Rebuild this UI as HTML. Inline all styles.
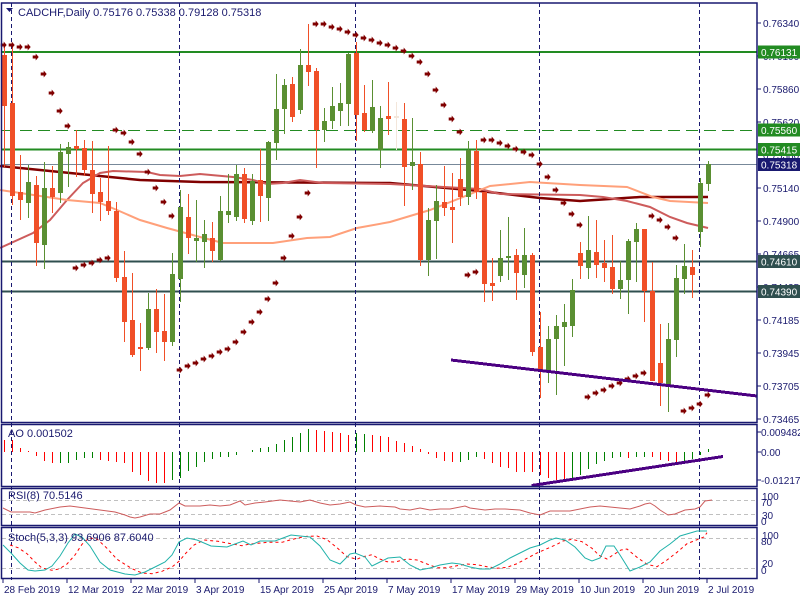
<!DOCTYPE html>
<html><head><meta charset="utf-8"><style>
html,body{margin:0;padding:0;background:#fff;}
svg{display:block;font-family:"Liberation Sans",sans-serif;}
</style></head><body>
<svg id="c" width="800" height="600" xmlns="http://www.w3.org/2000/svg"></svg>
<script>
var S=document.getElementById('c'),NS='http://www.w3.org/2000/svg',h='';
function X(i){return 3.7+8*i;}
var G='#5a8f32',R='#f04f27',F='#191970',T='#1a1a6e';
var C=[[R,55,106,45,167],[R,103,196,45,205],[R,192,200,155,220],[G,182,203,165,218],[R,185,243,176,266],[G,188,245,162,269],[R,188,197,166,213],[G,152,193,144,203],[G,147,154,142,187],[R,146,149,130,177],
[R,148,170,140,176],[R,170,194,141,213],[R,192,202,178,221],[R,201,211,146,215],[R,211,278,202,282],[R,277,322,251,342],[R,320,355,273,357],[R,347,349,323,371],[G,309,348,293,350],[R,309,332,289,353],
[R,331,342,294,361],[G,274,342,253,346],[G,207,279,190,302],[R,217,238,194,254],[G,238,241,200,262],[G,234,242,220,268],[R,238,251,222,262],[G,211,260,196,261],[G,211,215,174,223],[G,174,217,165,221],
[R,174,219,168,223],[G,181,221,174,225],[R,180,196,149,222],[G,142,198,141,221],[G,109,143,74,160],[G,85,109,79,134],[R,84,117,77,122],[G,65,110,49,114],[R,65,72,24,86],[R,71,130,68,168],
[G,121,130,108,142],[G,106,121,87,129],[G,103,111,83,126],[G,54,104,53,126],[R,53,115,42,141],[R,113,130,85,132],[G,107,131,80,133],[G,118,150,106,168],[R,116,119,82,135],['#f3e6da',116,118,102,150],
[R,119,167,103,206],[G,162,166,118,190],[R,164,260,152,266],[G,220,260,208,276],[G,201,221,185,259],[R,202,208,166,216],[R,207,210,173,243],[R,179,197,158,206],[G,150,197,141,205],[R,151,192,140,199],
[R,192,284,192,302],[R,283,286,258,301],[G,258,276,230,282],[G,256,257,217,280],[R,255,273,249,300],[G,255,275,228,288],[R,255,352,253,356],[R,347,370,312,398],[G,339,370,326,383],[G,326,339,315,395],
[G,322,327,304,366],[G,290,326,279,337],[R,253,266,242,279],[G,250,268,216,279],[R,252,265,220,278],[R,263,268,240,282],[R,267,289,235,294],[G,280,289,261,299],[G,241,280,239,314],[G,229,242,223,282],
[R,229,291,229,322],[R,291,381,262,381],[R,363,383,324,406],[G,339,385,323,412],[G,278,340,265,357],[G,266,279,244,294],[R,267,275,250,298],[G,183,232,178,247],[G,164,184,161,191]];
var SAR=[45,45,47,47,57,74,93,111,126,268,265,263,260,258,130,133,142,154,172,188,202,216,370,366,363,359,356,352,349,342,332,322,312,299,283,258,236,217,193,24,24,27,29,32,35,38,40,43,45,48,51,56,62,74,90,105,119,132,275,272,140,140,143,146,149,152,155,164,177,190,203,214,225,397,393,390,386,383,379,376,373,216,220,227,238,411,408,404,395];
var AO=[[R,440],[R,440],[R,448],[R,451],[R,456],[R,461],[R,463],[G,463],[G,463],[G,460],[G,458],[G,458],[R,460],[R,461],[R,462],[R,463],[R,472],[R,475],[R,481],[R,483],[R,483],[G,480],[G,478],[G,471],[G,467],[G,462],[G,459],[G,457],[G,457],[G,455],[G,452],[G,450],[G,448],[G,447],[G,444],[G,440],[G,437],[G,433],[G,429],[R,430],[R,431],[R,432],[R,433],[R,435],[G,433],[G,434],[R,435],[R,436],[R,437],[R,441],[R,443],[R,446],[R,449],[R,454],[R,458],[R,461],[R,462],[G,462],[G,460],[G,457],[R,459],[R,463],[R,467],[R,468],[R,472],[R,472],[R,472],[R,475],[R,478],[R,480],[R,480],[G,478],[G,475],[G,469],[G,464],[G,461],[G,458],[G,457],[R,458],[G,457],[G,457],[R,457],[R,460],[R,461],[R,462],[G,461],[G,459],[G,455],[G,449]];
function L(x1,y1,x2,y2,c,w,d){h+='<line x1="'+x1+'" y1="'+y1+'" x2="'+x2+'" y2="'+y2+'" stroke="'+c+'" stroke-width="'+(w||1)+'"'+(d?' stroke-dasharray="'+d+'"':'')+' shape-rendering="crispEdges"/>';}
function P(pts,c,w,d){h+='<polyline fill="none" points="'+pts.map(function(p){return p.join(',')}).join(' ')+'" stroke="'+c+'" stroke-width="'+(w||1)+'"'+(d?' stroke-dasharray="'+d+'"':'')+'/>';}
function TX(x,y,t,c,s,a){h+='<text x="'+x+'" y="'+y+'" fill="'+c+'" font-size="'+(s||11)+'"'+(a?' text-anchor="'+a+'"':'')+'>'+t+'</text>';}
L(2,52,757,52,'#228b22',2);L(2,130.5,757,130.5,'#228b22',1,'12,6');L(2,149.5,757,149.5,'#228b22',2);
L(2,164.5,757,164.5,'#778899',1);L(2,261.5,757,261.5,'#2f4f4f',2);L(2,291.5,757,291.5,'#2f4f4f',2);
P([[0,166],[100,176],[140,180],[200,182],[390,183],[480,191],[540,198],[580,201],[610,199],[640,197],[708,197]],'#800000',2.5);
P([[0,248],[33,233],[50,220],[67,200],[83,183],[100,173],[113,171],[147,172],[160,175],[180,176],[200,174],[233,177],[253,180],[267,184],[283,183],[300,180],[323,183],[390,184],[480,189],[500,194],[580,195],[603,197],[627,201],[650,207],[670,217],[687,223],[708,228]],'#cd5c5c',2);
P([[0,190],[67,200],[100,203],[117,210],[140,220],[167,228],[200,237],[223,243],[273,243],[307,238],[330,237],[357,228],[390,222],[430,210],[463,197],[490,186],[530,182],[580,185],[627,187],[653,197],[670,201],[708,203]],'#ffa07a',2);
[11.7,179.3,355.3,539.3,699.3].forEach(function(x){L(x,3,x,580,F,1,'4,3');});
C.forEach(function(c,i){var x=Math.round(X(i))+0.5;L(x,c[3],x,c[4],c[0],1);
var bh=Math.max(c[2]-c[1],2);h+='<rect x="'+(x-2.5)+'" y="'+c[1]+'" width="5" height="'+bh+'" fill="'+c[0]+'"/>';});
SAR.forEach(function(y,i){var x=X(i);h+='<path d="M'+(x-3)+','+(y-1.5)+'h3v-2l3,3.5l-3,3.5v-2h-3z" fill="#800000"/>';});
L(451,360,757,396,'#4b0082',3);
h+='<path d="M6,8h7l-3.5,4z" fill="'+F+'"/>';TX(18,16,'CADCHF,Daily  0.75176 0.75338 0.79128 0.75318',T,11);
AO.forEach(function(a,i){var x=Math.round(X(i))+0.5;L(x,Math.min(a[1],452),x,Math.max(a[1],452),a[0]===G?'#008000':'#ff0000',1);});
L(531.7,485.5,723,456.5,'#4b0082',3);
TX(8,437,'AO 0.001502',T,11);
L(2,500.5,757,500.5,'#c0c0c0',1,'4,3');L(2,514.5,757,514.5,'#c0c0c0',1,'4,3');
P([[3,508],[11,512],[30,512],[35,513],[45,510],[60,507],[70,506],[85,508],[100,510],[115,512],[125,515],[130,517],[135,518],[140,517],[150,514],[160,514],[170,510],[179,503],[185,506],[200,506],[210,505],[220,506],[230,505],[240,501],[245,505],[255,503],[265,502],[280,500],[290,501],[300,502],[310,500],[320,503],[330,505],[340,504],[350,502],[356,505],[365,507],[380,506],[395,507],[400,509],[410,510],[420,508],[430,510],[440,509],[450,509],[465,506],[470,508],[485,510],[495,509],[505,509],[520,510],[530,513],[540,515],[550,511],[560,511],[570,511],[580,509],[590,507],[600,506],[610,507],[620,508],[630,509],[640,506],[645,504],[650,503],[655,506],[660,510],[668,515],[675,514],[685,510],[695,509],[700,507],[705,501],[712,500]],'#cd5c5c',1);
TX(8,499,'RSI(8) 70.5146',T,11);
L(2,538.5,757,538.5,'#c0c0c0',1,'4,3');L(2,568.5,757,568.5,'#c0c0c0',1,'4,3');
var M=[[3,545],[11,553],[20,563],[28,570],[35,571],[45,570],[52,566],[60,556],[68,543],[75,534],[82,537],[90,546],[100,562],[110,570],[125,574],[135,575],[145,572],[155,567],[165,562],[172,555],[179,542],[187,538],[197,540],[211,546],[227,547],[235,544],[243,541],[251,545],[260,541],[275,541],[283,538],[291,535],[300,536],[310,537],[320,546],[330,560],[340,564],[350,554],[355,553],[365,557],[372,566],[380,562],[388,558],[400,557],[410,565],[420,570],[430,568],[440,565],[452,563],[460,564],[470,567],[480,569],[490,569],[500,564],[510,558],[520,553],[530,548],[540,545],[550,540],[556,538],[565,540],[575,547],[585,558],[592,561],[600,558],[606,546],[614,546],[620,555],[630,571],[640,567],[650,562],[660,551],[670,544],[680,536],[697,531],[707,531]];
var Sg=M.map(function(p,k){var a=M[Math.max(0,k-1)],b=M[Math.max(0,k-2)];return [Math.min(p[0]+7,707),((p[1]+a[1]+b[1])/3).toFixed(1)];});
P(Sg,'#ff0000',1,'3,3');P(M,'#20b2aa',1);
TX(8,541,'Stoch(5,3,3) 93.6906 87.6040',T,11);
function box(y1,y2){h+='<rect x="1.5" y="'+y1+'" width="755.5" height="'+(y2-y1)+'" fill="none" stroke="'+F+'" stroke-width="1.5"/>';}
box(3,422.5);box(424.5,486.5);box(488.5,525.5);box(527.5,578.5);
[['0.76340',23],['0.76100',56],['0.75860',89],['0.75620',122],['0.75380',155],['0.75140',188],['0.74900',221],['0.74665',254],['0.74425',287],['0.74185',320],['0.73945',353],['0.73705',386],['0.73465',419]].forEach(function(a){L(757,a[1],761,a[1],F,1);TX(763,a[1]+4,a[0],T,10);});
function tag(y,t,bg){h+='<rect x="758" y="'+(y-6.5)+'" width="42" height="13" fill="'+bg+'"/>';TX(761,y+4,t,'#fff',10);}
tag(52,'0.76131','#228b22');tag(130,'0.75560','#228b22');tag(149.5,'0.75415','#228b22');tag(164.5,'0.75318','#191970');tag(261.5,'0.74610','#2f4f4f');tag(291.5,'0.74390','#2f4f4f');
[['0.009482',432],['0.00',452],['-0.012176',480]].forEach(function(a){L(757,a[1],761,a[1],F,1);TX(761,a[1]+4,a[0],T,10);});
TX(762,500,'100',T,10);TX(761,506,'70',T,10);TX(762,519,'30',T,10);TX(761,525,'0',T,10);
TX(762,539,'100',T,10);TX(761,545,'80',T,10);TX(762,567,'20',T,10);TX(761,574,'0',T,10);
[['28 Feb 2019',3],['12 Mar 2019',67],['22 Mar 2019',131],['3 Apr 2019',195],['15 Apr 2019',259],['25 Apr 2019',323],['7 May 2019',387],['17 May 2019',451],['29 May 2019',515],['10 Jun 2019',579],['20 Jun 2019',643],['2 Jul 2019',707]].forEach(function(a){L(a[1],579,a[1],583,F,1);TX(a[1]+1,593,a[0],T,10);});
S.innerHTML=h;
</script>
</body></html>
